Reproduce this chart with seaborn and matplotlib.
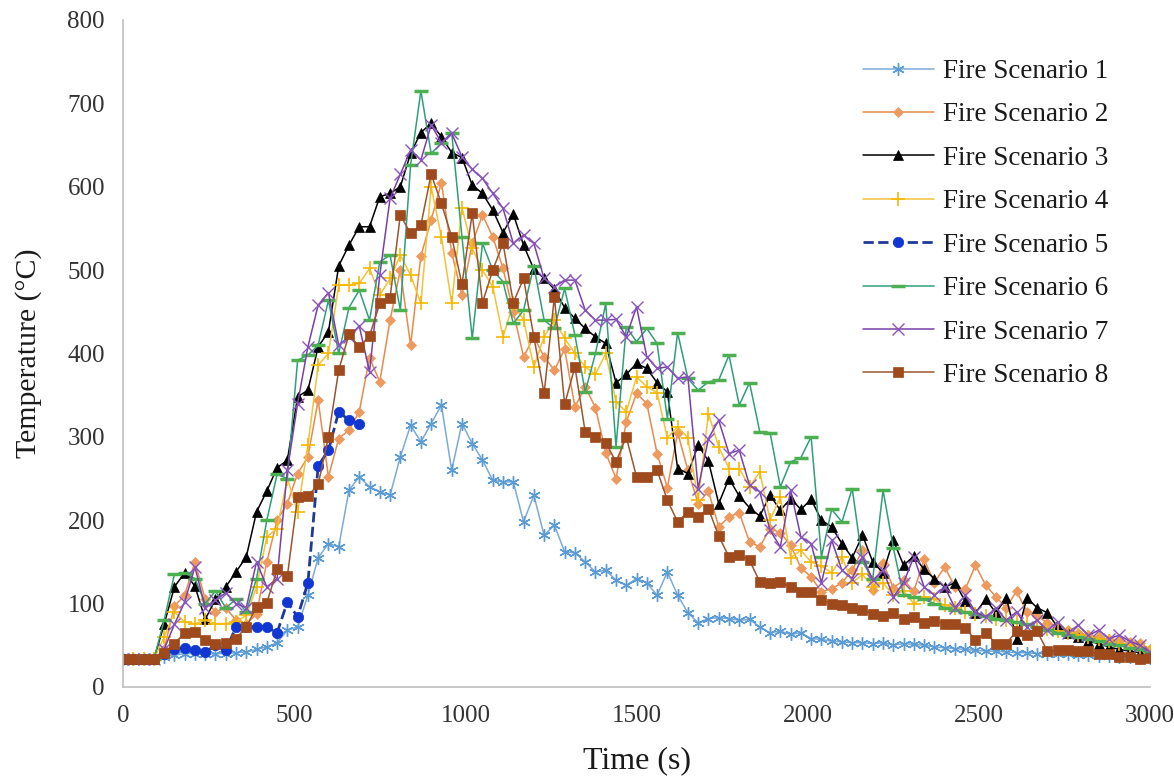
import matplotlib
matplotlib.use("Agg")
import matplotlib.pyplot as plt
import numpy as np
import pandas as pd
import seaborn as sns

sns.set_theme(style="white")
plt.rcParams["font.family"] = ["Liberation Serif", "DejaVu Serif"]

TICKS_FONT_SIZE = 18
XLABEL_FONT_SIZE = 23
YLABEL_FONT_SIZE = 21.5
LEGEND_FONT_SIZE = 19.5

# time step of the records is 30 s
TIME = list(range(0, 3001, 30))

FS1 = [
    33, 33, 33, 33, 36, 38, 40, 40, 39, 40,
    40, 41, 42, 45, 48, 53, 68, 72, 110, 155,
    172, 168, 236, 252, 240, 234, 230, 276, 314, 294,
    316, 338, 260, 316, 292, 272, 248, 246, 246, 198,
    230, 182, 194, 162, 161, 150, 138, 140, 128, 122,
    130, 125, 110, 138, 110, 89, 77, 82, 83, 82,
    80, 81, 72, 65, 67, 63, 65, 58, 57, 55,
    54, 53, 53, 52, 53, 50, 52, 51, 50, 48,
    47, 46, 45, 44, 43, 43, 42, 41, 41, 40,
    40, 39, 39, 38, 38, 37, 37, 36, 36, 35,
    35,
]
FS2 = [
    33, 33, 33, 33, 45, 97, 110, 150, 105, 90,
    95, 80, 75, 88, 150, 200, 220, 256, 276, 344,
    252, 298, 308, 330, 395, 366, 440, 500, 410, 517,
    560, 605, 521, 470, 532, 566, 540, 502, 450, 396,
    420, 396, 380, 405, 336, 360, 335, 281, 250, 318,
    352, 340, 280, 239, 305, 260, 220, 235, 192, 204,
    209, 174, 168, 190, 185, 170, 143, 132, 114, 118,
    125, 140, 164, 116, 149, 119, 128, 115, 153, 125,
    144, 120, 117, 146, 122, 108, 95, 115, 90, 85,
    77, 72, 68, 65, 62, 60, 57, 55, 54, 53,
    45,
]
FS3 = [
    33, 33, 33, 33, 75, 120, 137, 121, 81, 105,
    120, 138, 156, 210, 235, 263, 272, 348, 356, 408,
    426, 505, 530, 552, 552, 588, 592, 600, 640, 665,
    676, 660, 641, 635, 602, 592, 572, 545, 567, 530,
    501, 490, 477, 455, 442, 430, 420, 412, 365, 375,
    388, 382, 365, 354, 262, 256, 290, 271, 220, 250,
    229, 215, 205, 230, 212, 226, 213, 225, 200, 192,
    172, 155, 182, 150, 137, 176, 146, 157, 141, 130,
    120, 125, 103, 89, 105, 89, 107, 58, 107, 95,
    89, 72, 65, 60, 55, 52, 48, 45, 43, 41,
    40,
]
FS4 = [
    33, 33, 33, 33, 60, 90, 78, 76, 80, 76,
    76, 78, 86, 120, 180, 190, 250, 210, 290, 386,
    400, 482, 482, 484, 502, 470, 490, 518, 494, 460,
    600, 540, 460, 575, 526, 500, 480, 420, 460, 440,
    384, 420, 440, 418, 400, 384, 375, 400, 342, 330,
    372, 360, 353, 299, 312, 299, 224, 328, 288, 262,
    262, 240, 258, 200, 228, 155, 164, 150, 145, 137,
    156, 125, 135, 120, 125, 110, 115, 100, 108, 105,
    98, 95, 90, 88, 85, 82, 80, 78, 75, 72,
    70, 67, 65, 62, 60, 57, 55, 52, 50, 48,
    42,
]
# scenario 5 was only recorded up to 690 s
FS5 = [
    33, 33, 33, 33, 40, 45, 47, 44, 42, 50,
    44, 72, 72, 72, 72, 65, 102, 84, 125, 265,
    284, 330, 320, 316,
]
FS6 = [
    33, 33, 33, 33, 80, 135, 137, 130, 100, 115,
    95, 105, 90, 130, 200, 255, 250, 392, 398, 410,
    464, 400, 455, 476, 440, 510, 518, 452, 626, 715,
    640, 652, 665, 540, 418, 532, 500, 486, 436, 452,
    505, 440, 430, 478, 422, 354, 400, 460, 288, 432,
    414, 430, 412, 322, 425, 370, 356, 366, 368, 398,
    338, 365, 306, 305, 240, 270, 275, 300, 156, 213,
    198, 238, 150, 130, 236, 167, 110, 108, 105, 100,
    95, 92, 90, 87, 85, 82, 80, 78, 75, 72,
    68, 65, 62, 60, 57, 55, 52, 50, 47, 45,
    40,
]
FS7 = [
    33, 33, 33, 33, 45, 75, 102, 144, 95, 104,
    113, 100, 95, 150, 120, 130, 260, 340, 408, 458,
    473, 410, 420, 433, 378, 494, 586, 615, 644, 632,
    674, 653, 664, 636, 621, 610, 592, 574, 532, 542,
    532, 490, 480, 488, 488, 452, 440, 440, 441, 420,
    456, 396, 382, 384, 370, 372, 238, 298, 320, 280,
    284, 242, 234, 188, 168, 236, 180, 172, 125, 176,
    140, 130, 156, 128, 140, 108, 125, 156, 120, 110,
    120, 95, 110, 90, 84, 95, 80, 90, 72, 80,
    68, 78, 65, 74, 62, 68, 58, 62, 55, 50,
    42,
]
FS8 = [
    33, 33, 33, 33, 41, 52, 65, 66, 56, 52,
    53, 58, 72, 96, 101, 141, 133, 228, 229, 243,
    300, 380, 423, 408, 421, 460, 467, 566, 544, 554,
    615, 580, 540, 483, 568, 461, 500, 532, 461, 490,
    420, 352, 468, 339, 384, 306, 300, 293, 270, 300,
    252, 252, 260, 224, 198, 210, 204, 214, 181, 156,
    158, 152, 126, 125, 126, 120, 114, 114, 104, 100,
    98, 95, 92, 88, 85, 89, 81, 84, 77, 79,
    76, 76, 71, 56, 65, 52, 52, 67, 62, 67,
    43, 44, 44, 43, 43, 40, 40, 36, 36, 34,
    35,
]

SERIES = [FS1, FS2, FS3, FS4, FS5, FS6, FS7, FS8]
NAMES = ["Fire Scenario %d" % (i + 1) for i in range(8)]

# line colour, marker colour, marker, marker size, marker edge width, line style
STYLES = [
    ("#7DA9D8", "#5B9BD5", (6, 2, 0), 9, 1.0, "-"),
    ("#E98A4C", "#EE9A5E", "D", 5.5, 0.5, "-"),
    ("#000000", "#000000", "^", 6.5, 0.5, "-"),
    ("#F2C23A", "#F5B800", "+", 10, 1.2, "-"),
    ("#1F3A96", "#1236D2", "o", 7.5, 0.5, "--"),
    ("#2F9F78", "#4CAF50", "_", 10, 2.5, "-"),
    ("#7A3FA8", "#8A55BE", "x", 8, 1.0, "-"),
    ("#9A5530", "#9E4A1C", "s", 7, 0.5, "-"),
]

fig = plt.figure(figsize=(11.74, 7.81), dpi=100)
ax = fig.add_axes([0.1048, 0.1204, 0.8748, 0.854])

for vals, name, st in zip(SERIES, NAMES, STYLES):
    line_c, mark_c, mk, ms, mew, ls = st
    df = pd.DataFrame({"Time": TIME[: len(vals)], "Temp": vals})
    sns.lineplot(
        data=df,
        x="Time",
        y="Temp",
        ax=ax,
        color=line_c,
        linewidth=1.1 if ls == "-" else 2.0,
        linestyle=ls,
        marker=mk,
        markersize=ms,
        markerfacecolor=mark_c,
        markeredgecolor=mark_c,
        markeredgewidth=mew,
        label=name,
    )

ax.set_xlim(0, 3000)
ax.set_ylim(0, 800)
ax.set_xticks(np.arange(0, 3001, 500))
ax.set_yticks(np.arange(0, 801, 100))
ax.set_xlabel("Time (s)", fontsize=XLABEL_FONT_SIZE, color="#1a1a1a", labelpad=14)
ax.set_ylabel("Temperature (°C)", fontsize=YLABEL_FONT_SIZE, color="#1a1a1a", labelpad=18)

for side in ["top", "right"]:
    ax.spines[side].set_visible(False)
for side in ["left", "bottom"]:
    ax.spines[side].set_color("#BFBFBF")
    ax.spines[side].set_linewidth(1.2)
ax.tick_params(
    axis="both",
    direction="inout",
    length=10,
    width=1.2,
    color="#BFBFBF",
    labelsize=TICKS_FONT_SIZE,
    labelcolor="#333333",
    pad=8,
)
ax.grid(False)

leg = ax.legend(
    loc="upper left",
    bbox_to_anchor=(0.697, 0.978),
    frameon=False,
    fontsize=LEGEND_FONT_SIZE,
    handlelength=2.6,
    handletextpad=0.35,
    labelspacing=0.68,
)
for t in leg.get_texts():
    t.set_color("#1a1a1a")

fig.savefig("out.png", dpi=100)
